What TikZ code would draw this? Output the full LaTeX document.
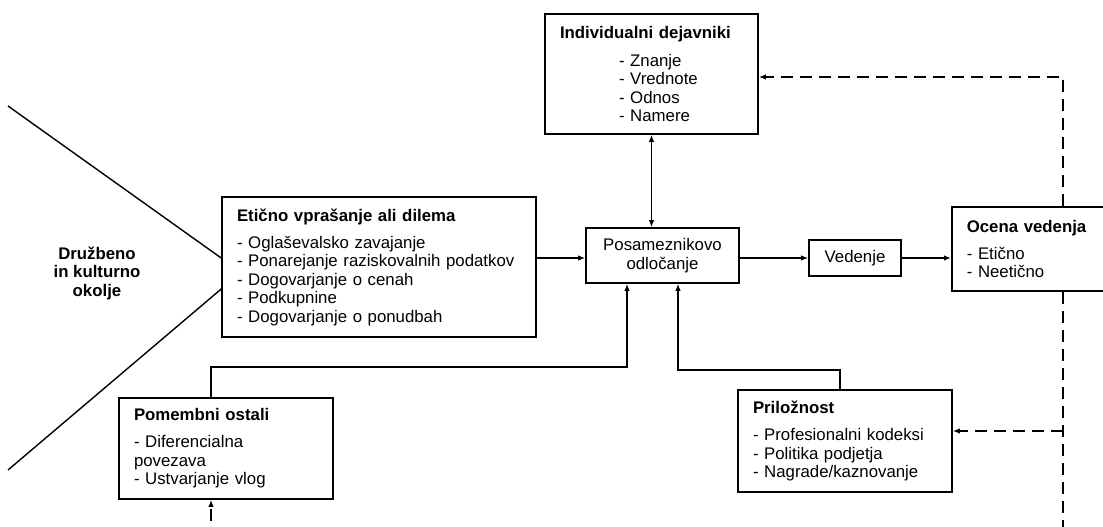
\documentclass[tikz,border=0pt]{standalone}
\usepackage{fontspec}
\setmainfont{Liberation Sans}
\usetikzlibrary{arrows.meta,calc}
\begin{document}
\begin{tikzpicture}[x=1pt,y=-1pt,
  every node/.style={font=\fontsize{16.8}{18.5}\selectfont},
  box/.style={draw, line width=1.6pt, inner ysep=0pt, rectangle},
  listbox/.style={box, align=left, inner xsep=15pt},
  edge/.style={line width=1.4pt},
  link/.style={edge, -{Latex[length=7pt,width=5.5pt]}},
  feedback/.style={link, line width=1.6pt, dash pattern=on 12pt off 7pt},
]
\useasboundingbox (0,0) rectangle (1103,527);
\fill[white] (0,0) rectangle (1103,527);
\clip (0,0) rectangle (1103,527);

% helper rows and columns for the routed connectors
\coordinate (main) at (0,258);
\coordinate (lowA) at (0,289);
\coordinate (fb) at (1063,0);
\coordinate (fbtop) at (0,77);
\coordinate (opp) at (0,431);
\coordinate (below) at (0,560);
\coordinate (pomx) at (211,0);
\coordinate (prilx) at (840,0);
\coordinate (rowA) at (0,367);
\coordinate (rowB) at (0,370);

% boxes
\node[listbox, text width=284, minimum height=140] (etic) at (379,267)
  {\textbf{Etično vprašanje ali dilema}\\[8.5pt]
   - Oglaševalsko zavajanje\\
   - Ponarejanje raziskovalnih podatkov\\
   - Dogovarjanje o cenah\\
   - Podkupnine\\
   - Dogovarjanje o ponudbah};

\node[listbox, text width=183, minimum height=120] (indiv) at (651.5,74)
  {\textbf{Individualni dejavniki}\\[9pt]
   \hspace*{59pt}- Znanje\\
   \hspace*{59pt}- Vrednote\\
   \hspace*{59pt}- Odnos\\
   \hspace*{59pt}- Namere};

\node[box, align=center, minimum width=153, minimum height=55, inner xsep=0pt] (posa) at (662.5,255.5)
  {Posameznikovo\\odločanje};

\node[box, minimum width=92, minimum height=36, inner xsep=0pt] (ved) at (855,258) {Vedenje};

\node[listbox, text width=170, minimum height=84, anchor=west] (ocena) at (951,249)
  {\textbf{Ocena vedenja}\\[8.5pt]
   - Etično\\
   - Neetično};

\node[listbox, text width=184, minimum height=101] (pom) at (226,448.5)
  {\textbf{Pomembni ostali}\\[8.5pt]
   - Diferencialna\\
   povezava\\
   - Ustvarjanje vlog};

\node[listbox, text width=184, minimum height=102] (prilo) at (845,441)
  {\textbf{Priložnost}\\[8.5pt]
   - Profesionalni kodeksi\\
   - Politika podjetja\\
   - Nagrade/kaznovanje};

\node[align=center, font=\fontsize{16.8}{18.5}\selectfont\bfseries] (okolje) at (97,273)
  {Družbeno\\in kulturno\\okolje};

% the social and cultural environment funnel
\draw[edge] (8,106) -- (etic.west |- main);
\draw[edge] (8,470) -- (etic.west |- lowA);

% main decision chain
\draw[link] (etic.east |- main) -- (posa.west |- main);
\draw[link] (posa.east |- main) -- (ved.west |- main);
\draw[link] (ved.east |- main) -- (ocena.west |- main);
\draw[edge, {Latex[length=7pt,width=5.5pt]}-{Latex[length=7pt,width=5.5pt]}]
  (indiv.south) -- (indiv.south |- posa.north);

% influences from below
\draw[link] (pomx |- pom.north) -- (pomx |- rowA) -| ($(posa.south)+(-35.5,0)$);
\draw[link] (prilx |- prilo.north) -- (prilx |- rowB) -| ($(posa.south)+(15.5,0)$);

% feedback loops
\draw[feedback] (fb |- ocena.north) -- (fb |- fbtop) -- (indiv.east |- fbtop);
\draw[feedback] (fb |- ocena.south) -- (fb |- below) -- (pomx |- below) -- (pomx |- pom.south);
\draw[feedback] (fb |- opp) -- (prilo.east |- opp);
\end{tikzpicture}
\end{document}
